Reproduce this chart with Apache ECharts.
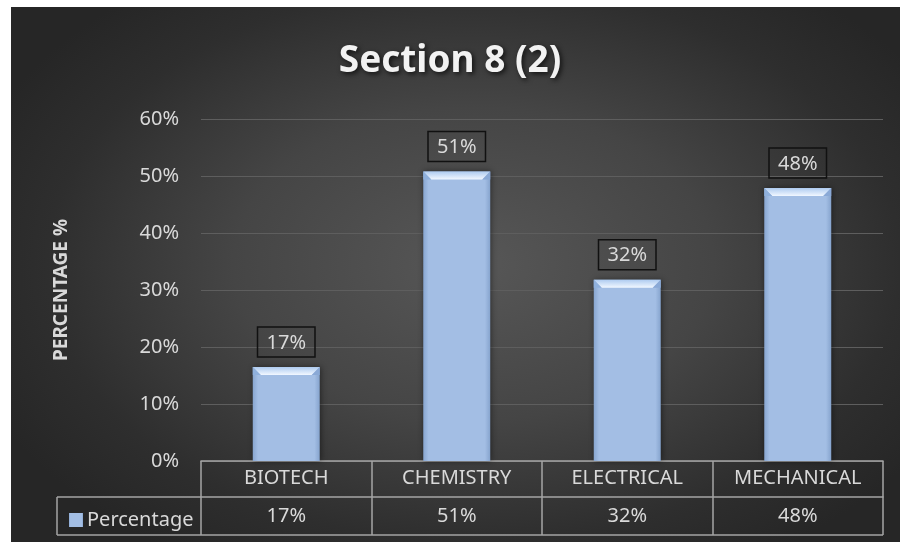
<!DOCTYPE html>
<html>
<head>
<meta charset="utf-8">
<script src="https://cdn.jsdelivr.net/npm/echarts@6/dist/echarts.min.js"></script>
<style>
  html, body { margin: 0; padding: 0; background: #ffffff; }
  #bg { position: absolute; left: 11px; top: 7px; width: 889px; height: 535px;
        background: radial-gradient(ellipse 60% 65% at 52% 48%, #575757 0%, #454545 45%, #2e2e2e 80%, #262626 100%); }
  #chart { position: absolute; left: 0; top: 0; width: 900px; height: 542px; }
</style>
</head>
<body>
<div id="bg"></div>
<div id="chart"></div>
<script>
const title = 'Section 8 (2)';
const categories = ['BIOTECH', 'CHEMISTRY', 'ELECTRICAL', 'MECHANICAL'];
const seriesName = 'Percentage';
const values = [16.5, 50.8, 31.8, 47.9];
const yTicks = { min: 0, max: 60, interval: 10 };
const yAxisName = 'PERCENTAGE %';

const fmt = v => Math.round(v) + '%';
const txt = '#d9d9d9';
const lineCol = '#a5a5a5';
const font = 'Noto Sans';

const G = { left: 201, right: 17, top: 119, bottom: 81 };

const chart = echarts.init(document.getElementById('chart'), null, { renderer: 'canvas' });

const barFill = new echarts.graphic.LinearGradient(0, 0, 1, 0, [
  { offset: 0, color: '#88a6d0' },
  { offset: 0.08, color: '#a3bee4' },
  { offset: 0.92, color: '#a3bee4' },
  { offset: 1, color: '#86a4ce' }
]);

const option = {
  backgroundColor: 'transparent',
  animation: false,
  title: {
    text: title, left: 'center', top: 38, padding: [5, 5, 5, 30],
    textStyle: { fontFamily: font, fontSize: 37, fontWeight: 'bold', color: '#f2f2f2', letterSpacing: 3.5,
      textShadowColor: 'rgba(0,0,0,0.7)', textShadowBlur: 5, textShadowOffsetX: 2, textShadowOffsetY: 2 }
  },
  legend: {
    data: [seriesName], left: 64, top: 505, icon: 'rect', itemWidth: 14, itemHeight: 14, itemGap: 4,
    textStyle: { fontFamily: font, fontSize: 20, color: txt, padding: [0, 0, 0, -1] }
  },
  grid: { left: G.left, right: G.right, top: G.top, bottom: G.bottom, containLabel: false },
  xAxis: [
    { type: 'category', data: categories, position: 'bottom',
      axisLine: { show: true, lineStyle: { color: lineCol, width: 1.5 } },
      axisTick: { show: true, length: 74, lineStyle: { color: lineCol, width: 1.5 } },
      axisLabel: { fontFamily: font, fontSize: 20, color: txt, margin: 7 } },
    { type: 'category', data: values.map(fmt), position: 'bottom', offset: 36,
      axisLine: { show: true, lineStyle: { color: lineCol, width: 1.5 } },
      axisTick: { show: false },
      axisLabel: { fontFamily: font, fontSize: 20, color: txt, margin: 9 } }
  ],
  yAxis: {
    type: 'value', min: yTicks.min, max: yTicks.max, interval: yTicks.interval,
    name: yAxisName, nameLocation: 'middle', nameGap: 130, nameRotate: 90,
    nameTextStyle: { fontFamily: font, fontSize: 19, fontWeight: 'bold', color: txt },
    axisLine: { show: false }, axisTick: { show: false },
    axisLabel: { formatter: '{value}%', fontFamily: font, fontSize: 20, color: txt, margin: 22 },
    splitLine: { lineStyle: { color: '#5e5e5e', width: 1 } }
  },
  series: [
    { name: seriesName, type: 'bar', data: values, barWidth: 67,
      itemStyle: { color: barFill, shadowColor: 'rgba(0,0,0,0.45)', shadowBlur: 6, shadowOffsetX: 1 },
      label: { show: true, position: 'top', distance: 10, formatter: p => fmt(p.value),
        fontFamily: font, fontSize: 20, color: txt, borderColor: '#111', borderWidth: 1.5,
        padding: [6, 9, 4, 9] }
    },
    { name: 'bevel', type: 'custom', data: values, z: 5, silent: true,
      renderItem: function (params, api) {
        const top = api.coord([api.value(0), api.value(1)]);
        const w = 67, b = 8;
        const l = top[0] - w / 2, r = top[0] + w / 2, t = top[1];
        return { type: 'group', children: [
          { type: 'polygon', shape: { points: [[l, t], [r, t], [r - b, t + b], [l + b, t + b]] },
            style: { fill: new echarts.graphic.LinearGradient(0, 0, 0, 1, [
              { offset: 0, color: '#aecbf0' }, { offset: 1, color: '#f1f7ff' }]) } },
          { type: 'polygon', shape: { points: [[l, t], [l + b, t + b], [l, t + b]] },
            style: { fill: '#8fb0dc' } },
          { type: 'polygon', shape: { points: [[r, t], [r - b, t + b], [r, t + b]] },
            style: { fill: '#8aa9d6' } }
        ]};
      }
    }
  ]
};
chart.setOption(option);

// table borders around the legend cell and bottom row
const rowTop = 542 - G.bottom + 36, rowBot = 542 - G.bottom + 74;
const tableLeft = 57, tableRight = 900 - G.right;
chart.setOption({
  graphic: [
    { type: 'line', shape: { x1: tableLeft, y1: rowTop, x2: G.left, y2: rowTop }, style: { stroke: lineCol, lineWidth: 1.5 } },
    { type: 'line', shape: { x1: tableLeft, y1: rowBot, x2: tableRight, y2: rowBot }, style: { stroke: lineCol, lineWidth: 1.5 } },
    { type: 'line', shape: { x1: tableLeft, y1: rowTop, x2: tableLeft, y2: rowBot }, style: { stroke: lineCol, lineWidth: 1.5 } }
  ]
});
</script>
</body>
</html>
